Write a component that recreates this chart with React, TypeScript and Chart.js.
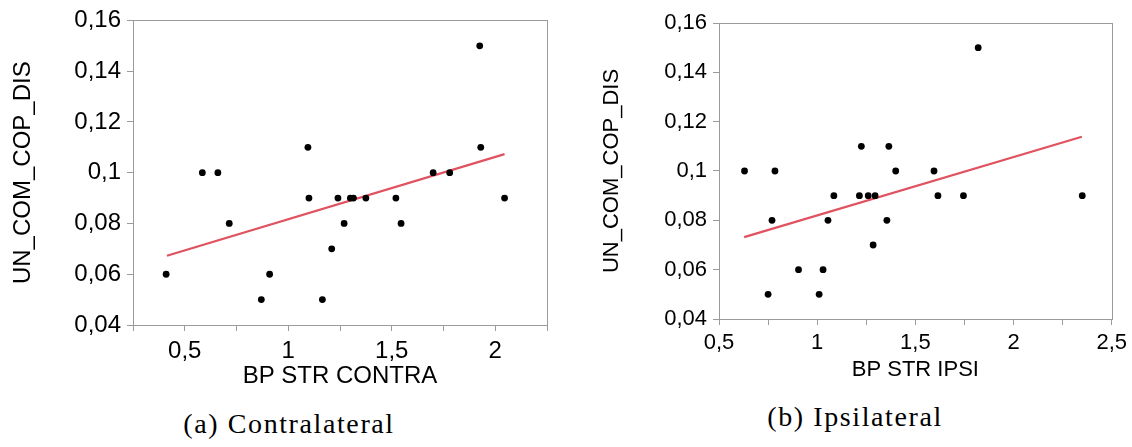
import React, { useEffect, useRef } from "react";
import { Chart, registerables } from "chart.js";

Chart.register(...registerables);

// Contralateral: BP STR CONTRA vs UN_COM_COP_DIS
const contraX = [0.41, 0.585, 0.66, 0.715, 0.87, 0.91, 1.095, 1.1, 1.165, 1.21, 1.24, 1.27, 1.3, 1.315, 1.375, 1.52, 1.545, 1.7, 1.78, 1.925, 1.93, 2.045];
const contraY = [0.06, 0.1, 0.1, 0.08, 0.05, 0.06, 0.11, 0.09, 0.05, 0.07, 0.09, 0.08, 0.09, 0.09, 0.09, 0.09, 0.08, 0.1, 0.1, 0.15, 0.11, 0.09];
const contraFitX = [0.414, 2.045];
const contraFitY = [0.0673, 0.1073];

// Ipsilateral: BP STR IPSI vs UN_COM_COP_DIS
const ipsiX = [0.63, 0.75, 0.77, 0.785, 0.905, 1.01, 1.03, 1.055, 1.085, 1.215, 1.225, 1.26, 1.285, 1.295, 1.355, 1.365, 1.4, 1.595, 1.615, 1.745, 1.82, 2.35];
const ipsiY = [0.1, 0.05, 0.08, 0.1, 0.06, 0.05, 0.06, 0.08, 0.09, 0.09, 0.11, 0.09, 0.07, 0.09, 0.08, 0.11, 0.1, 0.1, 0.09, 0.09, 0.15, 0.09];
const ipsiFitX = [0.628, 2.348];
const ipsiFitY = [0.0732, 0.1139];

const yTitle = "UN_COM_COP_DIS";
const contraTitle = "BP STR CONTRA";
const ipsiTitle = "BP STR IPSI";
const contraCaption = "(a) Contralateral";
const ipsiCaption = "(b) Ipsilateral";

const AXIS_GRAY = "#9b9b9b";
const FIT_RED = "#e0525f";
const SANS = "'Liberation Sans', Arial, Helvetica, sans-serif";

const fmt = (v: number) => String(+v.toFixed(2)).replace(".", ",");

const plotFrame = {
  id: "plotFrame",
  afterDatasetsDraw(chart: any) {
    const { ctx, chartArea: a } = chart;
    ctx.save();
    ctx.strokeStyle = AXIS_GRAY;
    ctx.lineWidth = 1;
    ctx.strokeRect(
      Math.round(a.left) + 0.5,
      Math.round(a.top) + 0.5,
      Math.round(a.right - a.left),
      Math.round(a.bottom - a.top)
    );
    ctx.restore();
  },
};

type PanelProps = {
  xs: number[];
  ys: number[];
  fitX: number[];
  fitY: number[];
  xMin: number;
  xMax: number;
  xLabel: string;
  fontSize: number;
  left: number;
  width: number;
  height: number;
  pad: { top: number; right: number };
  yAxisWidth: number;
  xAxisHeight: number;
  yTitlePad: number;
  xTitlePad: number;
  xTickPad: number;
};

function ScatterPanel(p: PanelProps) {
  const ref = useRef<HTMLCanvasElement | null>(null);

  useEffect(() => {
    if (!ref.current) return;
    const points = p.xs.map((x, i) => ({ x, y: p.ys[i] }));
    const fit = p.fitX.map((x, i) => ({ x, y: p.fitY[i] }));
    const tickFont = { family: SANS, size: p.fontSize };

    const chart = new Chart(ref.current, {
      type: "scatter",
      data: {
        datasets: [
          {
            data: points,
            pointRadius: 3.4,
            pointBackgroundColor: "#000",
            pointBorderWidth: 0,
            showLine: false,
          },
          {
            data: fit,
            showLine: true,
            pointRadius: 0,
            borderColor: FIT_RED,
            borderWidth: 2.2,
            tension: 0,
          },
        ],
      },
      options: {
        animation: false,
        responsive: false,
        events: [],
        layout: { padding: { top: p.pad.top, right: p.pad.right, left: 0, bottom: 0 } },
        plugins: { legend: { display: false }, tooltip: { enabled: false }, title: { display: false } },
        scales: {
          x: {
            type: "linear",
            min: p.xMin,
            max: p.xMax,
            afterFit: (s: any) => {
              s.height = p.xAxisHeight;
            },
            ticks: {
              stepSize: 0.25,
              autoSkip: false,
              maxRotation: 0,
              padding: p.xTickPad,
              color: "#000",
              font: tickFont,
              callback: (v: any) => {
                const n = Number(v);
                return Math.abs(n * 2 - Math.round(n * 2)) < 1e-6 ? fmt(n) : "";
              },
            },
            grid: { drawOnChartArea: false, drawTicks: true, tickLength: 6, color: AXIS_GRAY },
            border: { color: AXIS_GRAY, width: 1 },
            title: {
              display: true,
              text: p.xLabel,
              color: "#000",
              font: { family: SANS, size: p.fontSize },
              padding: { top: 0, bottom: p.xTitlePad },
            },
          },
          y: {
            type: "linear",
            min: 0.04,
            max: 0.16,
            afterFit: (s: any) => {
              s.width = p.yAxisWidth;
            },
            ticks: {
              stepSize: 0.02,
              autoSkip: false,
              padding: 6,
              color: "#000",
              font: tickFont,
              callback: (v: any) => fmt(Number(v)),
            },
            grid: { drawOnChartArea: false, drawTicks: true, tickLength: 6, color: AXIS_GRAY },
            border: { color: AXIS_GRAY, width: 1 },
            title: {
              display: true,
              text: yTitle,
              color: "#000",
              font: { family: SANS, size: p.fontSize },
              padding: { top: p.yTitlePad, bottom: 0 },
            },
          },
        },
      },
      plugins: [plotFrame],
    } as any);

    return () => chart.destroy();
  }, []);

  return (
    <canvas
      ref={ref}
      width={p.width}
      height={p.height}
      style={{ position: "absolute", left: p.left, top: 0, display: "block" }}
    />
  );
}

const captionStyle = (centerX: number, top: number): React.CSSProperties => ({
  position: "absolute",
  left: centerX,
  top,
  transform: "translateX(-50%)",
  whiteSpace: "nowrap",
  fontFamily: "'Liberation Serif', 'Times New Roman', serif",
  fontSize: 28,
  lineHeight: "28px",
  letterSpacing: "1.6px",
  color: "#000",
});

export default function App() {
  return (
    <div
      style={{
        position: "fixed",
        left: 0,
        top: 0,
        width: 1132,
        height: 447,
        background: "#fff",
        overflow: "hidden",
      }}
    >
      <ScatterPanel
        xs={contraX}
        ys={contraY}
        fitX={contraFitX}
        fitY={contraFitY}
        xMin={0.25}
        xMax={2.25}
        xLabel={contraTitle}
        fontSize={24}
        left={0}
        width={560}
        height={400}
        pad={{ top: 14, right: 13 }}
        yAxisWidth={133}
        xAxisHeight={75}
        yTitlePad={9}
        xTitlePad={9}
        xTickPad={6}
      />
      <ScatterPanel
        xs={ipsiX}
        ys={ipsiY}
        fitX={ipsiFitX}
        fitY={ipsiFitY}
        xMin={0.5}
        xMax={2.5}
        xLabel={ipsiTitle}
        fontSize={22}
        left={572}
        width={560}
        height={400}
        pad={{ top: 23, right: 19 }}
        yAxisWidth={147}
        xAxisHeight={81}
        yTitlePad={27}
        xTitlePad={17}
        xTickPad={5}
      />
      <div style={captionStyle(289, 410)}>{contraCaption}</div>
      <div style={captionStyle(855, 403)}>{ipsiCaption}</div>
    </div>
  );
}
